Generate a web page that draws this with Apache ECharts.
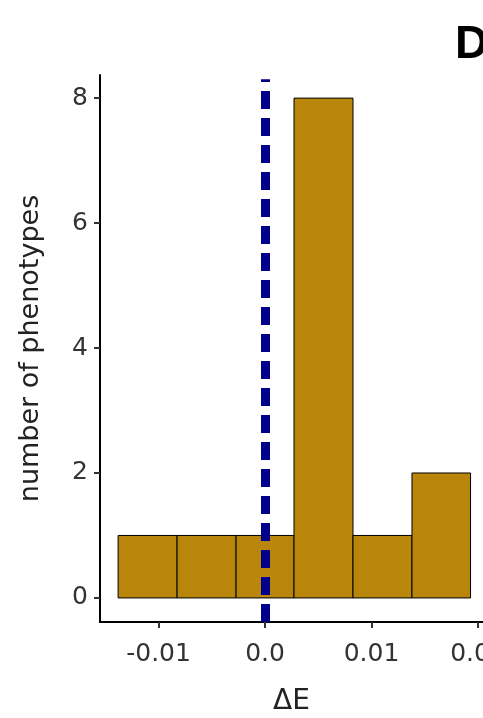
<!DOCTYPE html>
<html>
<head>
<meta charset="utf-8">
<script src="https://cdn.jsdelivr.net/npm/echarts@6/dist/echarts.min.js"></script>
<style>html,body{margin:0;padding:0;background:#fff}#chart{width:483px;height:718px}</style>
</head>
<body>
<div id="chart"></div>
<script>
// histogram bins (left edge, right edge) and counts
var binStart = [-0.0138, -0.00826, -0.00272, 0.00272, 0.00826, 0.0138];
var binEnd = [-0.00826, -0.00272, 0.00272, 0.00826, 0.0138, 0.0193];
var counts = [1, 1, 1, 8, 1, 2];
var xTicks = [-0.01, 0, 0.01, 0.02];
var yTicks = [0, 2, 4, 6, 8];
var refLine = 0;

var myChart = echarts.init(document.getElementById('chart'));

var data = [];
for (var i = 0; i < counts.length; i++) {
    data.push([binStart[i], binEnd[i], counts[i]]);
}

var option = {
    animation: false,
    grid: { left: 100, top: 75, right: 0, height: 547, outerBoundsMode: 'none', containLabel: false },
    graphic: [
        { type: 'text', left: 455, top: 22, style: { text: 'D', font: 'bold 46px Liberation Sans', fill: '#000' } }
    ],
    xAxis: {
        type: 'value', min: -0.0155, max: 0.02047,
        name: 'ΔE', nameLocation: 'middle', nameGap: 66,
        nameTextStyle: { fontSize: 28, color: '#222', fontFamily: 'DejaVu Sans' },
        axisLine: { onZero: false, lineStyle: { color: '#000', width: 2 } },
        axisTick: { show: true, length: 6, customValues: xTicks, lineStyle: { color: '#333', width: 2 } },
        axisLabel: {
            customValues: xTicks, margin: 20, fontSize: 25, color: '#333', fontFamily: 'DejaVu Sans',
            formatter: function (v) { return v === 0 ? '0.0' : v.toFixed(2); }
        },
        splitLine: { show: false }
    },
    yAxis: {
        type: 'value', min: -0.385, max: 8.37,
        name: 'number of phenotypes', nameLocation: 'middle', nameGap: 56, nameRotate: 90,
        nameTextStyle: { fontSize: 27, color: '#222', fontFamily: 'DejaVu Sans' },
        axisLine: { show: true, onZero: false, lineStyle: { color: '#000', width: 2 } },
        axisTick: { show: true, length: 6, customValues: yTicks, lineStyle: { color: '#333', width: 2 } },
        axisLabel: { customValues: yTicks, margin: 12, fontSize: 25, color: '#333', fontFamily: 'DejaVu Sans' },
        splitLine: { show: false }
    },
    series: [{
        type: 'custom',
        data: data,
        renderItem: function (params, api) {
            var p0 = api.coord([api.value(0), 0]);
            var p1 = api.coord([api.value(1), api.value(2)]);
            return {
                type: 'rect',
                shape: { x: p0[0], y: p1[1], width: p1[0] - p0[0], height: p0[1] - p1[1] },
                style: { fill: '#b8860b', stroke: '#000', lineWidth: 1 }
            };
        },
        markLine: {
            silent: true, symbol: 'none', label: { show: false },
            lineStyle: { color: '#00008b', width: 9, type: [18, 9] },
            data: [[{ coord: [refLine, -0.385] }, { coord: [refLine, 8.3] }]]
        }
    }]
};
myChart.setOption(option);
</script>
</body>
</html>
